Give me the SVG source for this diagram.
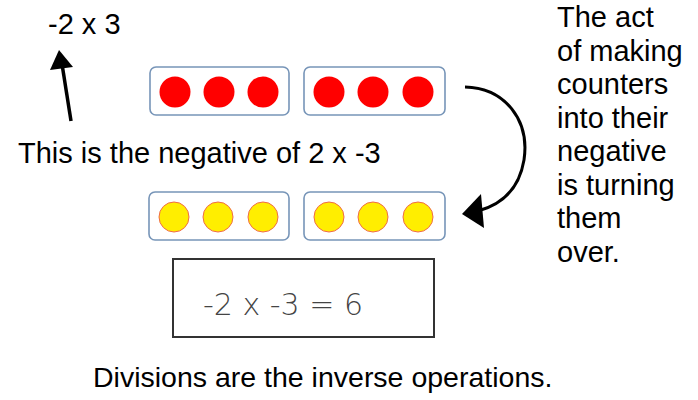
<svg xmlns="http://www.w3.org/2000/svg" width="698" height="400" viewBox="0 0 698 400">
<style>
  .t{font-family:"Liberation Sans",Arial,sans-serif;font-size:29px;fill:#000}
  .tray{fill:#fff;stroke:#7795b8;stroke-width:1.6}
  .red{fill:#ff0000}
  .yel{fill:#ffee00;stroke:#f06a4a;stroke-width:1}
  .hand{font-family:"DejaVu Sans","Liberation Sans",sans-serif;font-weight:200;font-size:31px;fill:#444}
</style>
<rect width="698" height="400" fill="#fff"/>
<g id="label-top"><text class="t" x="48" y="34">-2 x 3</text></g>
<g id="label-middle"><text class="t" x="18" y="163">This is the negative of 2 x -3</text></g>
<g id="label-right">
  <text class="t" x="557" y="27">The act</text>
  <text class="t" x="557" y="61">of making</text>
  <text class="t" x="557" y="94">counters</text>
  <text class="t" x="557" y="128">into their</text>
  <text class="t" x="557" y="161">negative</text>
  <text class="t" x="557" y="195">is turning</text>
  <text class="t" x="557" y="228">them</text>
  <text class="t" x="557" y="262">over.</text>
</g>
<g id="label-bottom"><text class="t" x="93" y="387" style="font-size:28.5px">Divisions are the inverse operations.</text></g>
<g id="tray-top-left">
  <rect class="tray" x="150" y="67" width="139" height="48" rx="6"/>
  <circle class="red" cx="175" cy="92" r="15.5"/>
  <circle class="red" cx="219" cy="92" r="15.5"/>
  <circle class="red" cx="263" cy="92" r="15.5"/>
</g>
<g id="tray-top-right">
  <rect class="tray" x="304" y="67" width="141" height="48" rx="6"/>
  <circle class="red" cx="329" cy="92" r="15.5"/>
  <circle class="red" cx="373" cy="92" r="15.5"/>
  <circle class="red" cx="418" cy="92" r="15.5"/>
</g>
<g id="tray-bottom-left">
  <rect class="tray" x="149" y="192" width="140" height="48" rx="6"/>
  <circle class="yel" cx="174" cy="217" r="15"/>
  <circle class="yel" cx="218" cy="217" r="15"/>
  <circle class="yel" cx="263" cy="217" r="15"/>
</g>
<g id="tray-bottom-right">
  <rect class="tray" x="304" y="192" width="141" height="48" rx="6"/>
  <circle class="yel" cx="329" cy="217" r="15"/>
  <circle class="yel" cx="373" cy="217" r="15"/>
  <circle class="yel" cx="418" cy="217" r="15"/>
</g>
<g id="equation">
  <rect x="173" y="259" width="261" height="78" fill="#fff" stroke="#333" stroke-width="2"/>
  <text class="hand" x="203" y="315" textLength="160" lengthAdjust="spacingAndGlyphs">-2 x -3 = 6</text>
</g>
<g id="connectors" fill="none" stroke="#000">
  <path d="M71,121 L62,64" stroke-width="3.5"/>
  <polygon points="59,50 50,70 73,67" fill="#000" stroke="none"/>
  <path d="M465,87 C505,88 530,120 524,160 C519,190 500,205 478,211" stroke-width="3"/>
  <polygon points="462,214 481,194 484,228" fill="#000" stroke="none"/>
</g>
</svg>
